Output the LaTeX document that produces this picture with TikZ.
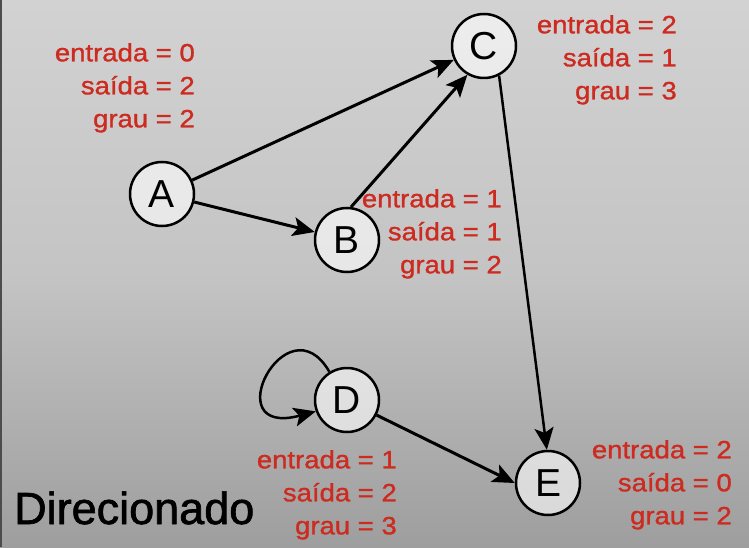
\documentclass[tikz,border=0pt]{standalone}
\usepackage{fontspec}
\setmainfont{Liberation Sans}
\newfontfamily\rotulofont[FakeStretch=1.1,FakeBold=1.2]{Liberation Sans}
\newfontfamily\titulofont[FakeBold=1.5]{Liberation Sans}
\usetikzlibrary{arrows.meta,positioning}
\definecolor{vermelho}{RGB}{205,42,32}
\definecolor{fundotopo}{RGB}{210,210,210}
\definecolor{fundomeio}{RGB}{196,196,196}
\definecolor{fundobase}{RGB}{158,158,158}

\begin{document}
\begin{tikzpicture}[x=1pt,y=1pt,
  vertice/.style={circle,draw,line width=2.5pt,minimum size=64pt,inner sep=0pt,
    fill=white,fill opacity=0.6,text opacity=1,font=\fontsize{39}{39}\selectfont},
  aresta/.style={line width=3pt,-{Stealth[length=22pt,width=19pt,inset=5pt]}},
  rotulo/.style={text=vermelho,align=right,inner sep=0pt,anchor=north east,
    font=\rotulofont\fontsize{25}{33}\selectfont}]
  % Fundo com degradê
  \shade[top color=fundotopo,bottom color=fundobase,middle color=fundomeio]
    (0,0) rectangle (749,547);
  \fill[black!70] (0,0) rectangle (2,547);

  % Vértices
  \node[vertice] (A) at (162,353) {A};
  \node[vertice] (B) at (347,307) {B};
  \node[vertice] (C) at (484,501) {C};
  \node[vertice] (D) at (347,147) {D};
  \node[vertice] (E) at (548,64) {E};

  % Arestas
  \draw[aresta] (A) -- (C);
  \draw[aresta] (A) -- (B);
  \draw[aresta] (B.83) -- (C.240);
  \draw[aresta,line width=2.5pt] (C.-63) -- (E.92);
  \draw[aresta] (D.-27) -- (E.180);
  \draw[aresta,line width=2.5pt] (D.122) .. controls +(120:85) and +(195:105) .. (D.200);

  % Graus de cada vértice
  \node[rotulo] (gA) at (195,504) {entrada = 0\\saída = 2\\grau = 2};
  \node[rotulo] (gC) at (677,532) {entrada = 2\\saída = 1\\grau = 3};
  \node[rotulo] (gB) at (502,358) {entrada = 1\\saída = 1\\grau = 2};
  \node[rotulo] (gD) at (397,97) {entrada = 1\\saída = 2\\grau = 3};
  \node[rotulo] (gE) at (732,107) {entrada = 2\\saída = 0\\grau = 2};

  % Título
  \node[anchor=base west,inner sep=0pt,font=\titulofont\fontsize{45}{45}\selectfont] (titulo)
    at (14,23) {Direcionado};
\end{tikzpicture}
\end{document}
